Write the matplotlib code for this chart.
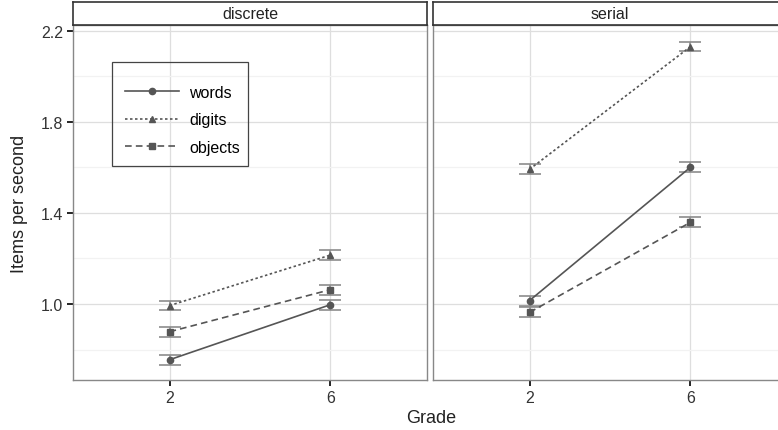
import numpy as np
import matplotlib
matplotlib.use("Agg")
from matplotlib import pyplot as plt
from matplotlib.patches import Rectangle

plt.rcParams["font.family"] = ["Liberation Sans", "DejaVu Sans"]

# values
grades = ["2", "6"]
panels = ["discrete", "serial"]
series = ["words", "digits", "objects"]
means = {
    "discrete": {"words": [0.755, 0.997], "digits": [0.993, 1.215], "objects": [0.878, 1.063]},
    "serial": {"words": [1.015, 1.601], "digits": [1.592, 2.131], "objects": [0.963, 1.359]},
}
errs = {
    "discrete": {"words": [0.022, 0.022], "digits": [0.020, 0.022], "objects": [0.022, 0.022]},
    "serial": {"words": [0.022, 0.022], "digits": [0.022, 0.020], "objects": [0.022, 0.022]},
}
styles = {"words": ("-", "o"), "digits": ((0, (1.5, 1.5)), "^"), "objects": ((0, (4, 2.5)), "s")}

W, H = 778, 431
fig = plt.figure(figsize=(W / 100, H / 100), dpi=100)
fig.patch.set_facecolor("white")

line_col = "#555555"
err_col = "#8c8c8c"
lefts = [73, 433]
pw = 354
bottom, top = 381, 26

x = np.arange(len(grades)) + 1
axes = []
for i, p in enumerate(panels):
    ax = fig.add_axes([lefts[i] / W, (H - bottom) / H, pw / W, (bottom - top) / H])
    axes.append(ax)
    ax.set_xlim(0.4, 2.6)
    ax.set_ylim(0.666, 2.226)
    ax.set_yticks([1.0, 1.4, 1.8, 2.2])
    ax.set_yticks([0.8, 1.2, 1.6, 2.0], minor=True)
    ax.set_xticks(x)
    ax.set_xticklabels(grades)
    ax.grid(True, which="major", color="#dedede", lw=0.9)
    ax.grid(True, which="minor", color="#f2f2f2", lw=0.9)
    ax.set_axisbelow(True)
    for s in ax.spines.values():
        s.set_color("#888888")
        s.set_linewidth(1.0)
    ax.tick_params(which="major", length=4, width=1.2, color="black", labelsize=11.5,
                   labelcolor="#333333", pad=3)
    ax.tick_params(which="minor", length=0)
    if i == 1:
        ax.tick_params(axis="y", which="both", left=False, labelleft=False)
    for name in series:
        ls, mk = styles[name]
        ax.errorbar(x, means[p][name], yerr=errs[p][name], fmt="none", ecolor=err_col,
                    elinewidth=1.2, capsize=8, capthick=1.2, zorder=2)
        ax.plot(x, means[p][name], ls=ls, marker=mk, color=line_col, lw=1.2,
                ms=4.5, label=name, zorder=3)

    sax = fig.add_axes([lefts[i] / W, (H - top) / H, pw / W, 23 / H])
    sax.set_xticks([])
    sax.set_yticks([])
    for s in sax.spines.values():
        s.set_color("#333333")
        s.set_linewidth(1.2)
    sax.text(0.5, 0.5, p, ha="center", va="center", fontsize=11.5, color="#222222",
             transform=sax.transAxes)

axes[0].set_ylabel("Items per second", fontsize=13, color="#222222", labelpad=9)
fig.text(431 / W, 1 - 419 / H, "Grade", ha="center", va="center", fontsize=13, color="#222222")

# legend entries plus a separate box, since the reference padding is uneven
leg = axes[0].legend(loc="upper left", bbox_to_anchor=(0.147, 0.832), frameon=False,
                     fontsize=11.5, handlelength=3.4, borderpad=0,
                     labelspacing=0.78, handletextpad=0.6, borderaxespad=0)
axes[0].add_patch(Rectangle((0.110, 0.603), 0.384, 0.293, transform=axes[0].transAxes,
                            fill=False, ec="#444444", lw=0.9, zorder=4))

fig.savefig("out.png", dpi=100)
